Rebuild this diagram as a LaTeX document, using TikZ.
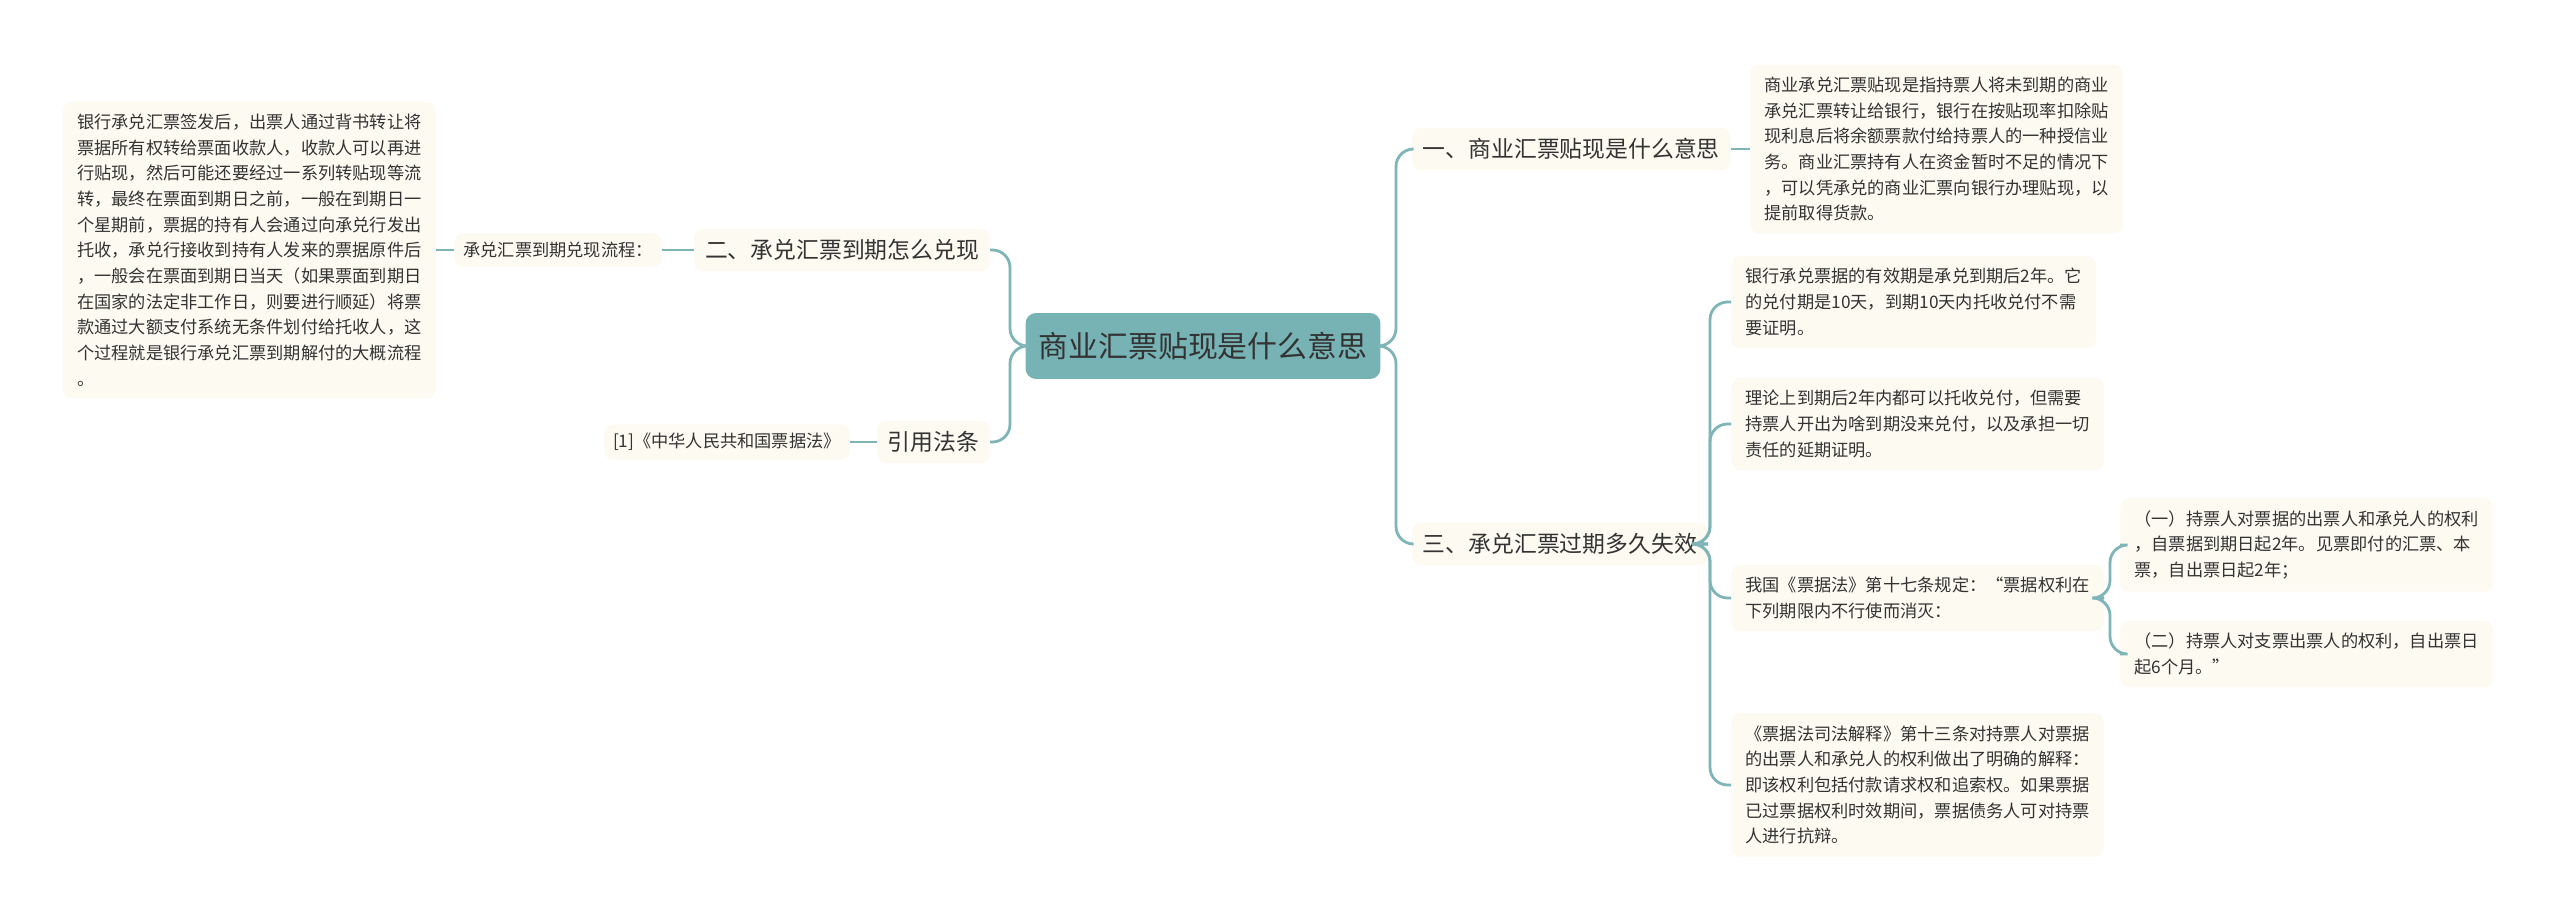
\documentclass[tikz,border=0pt]{standalone}
\usepackage{fontspec}
\setmainfont{Noto Sans CJK SC}
\begin{document}
\begin{tikzpicture}[x=0.02cm,y=-0.02cm,
  lk/.style={draw=lineC,line width=1.6pt,rounded corners=10},
  leaf/.style={fill=boxC,rounded corners=5,align=left,inner xsep=8,inner ysep=7,text=txtC,font=\fontsize{9.8pt}{14.6pt}\selectfont},
  br/.style={fill=boxC,rounded corners=5,inner xsep=6,inner ysep=6,text=txtC,font=\fontsize{13pt}{16pt}\selectfont},
  lab/.style={fill=boxC,rounded corners=5,inner sep=5,text=txtC,font=\fontsize{9.8pt}{14pt}\selectfont}]
\definecolor{lineC}{HTML}{7FB5B6}
\definecolor{boxC}{HTML}{FCFAF1}
\definecolor{txtC}{HTML}{333333}
\definecolor{ctrC}{HTML}{77B2B4}
\useasboundingbox[fill=white] (0,0) rectangle (2560,922);
\node[fill=ctrC,rounded corners=6,minimum width=7.1cm,minimum height=1.32cm,text=txtC,font=\fontsize{17pt}{20pt}\selectfont] (c) at (1203,346) {商业汇票贴现是什么意思};
% right
\node[br,anchor=west] (b1) at (1412,149) {一、商业汇票贴现是什么意思};
\node[br,anchor=west] (b3) at (1412,544) {三、承兑汇票过期多久失效};
\node[leaf,anchor=west] (r1) at (1750,149) {商业承兑汇票贴现是指持票人将未到期的商业\\承兑汇票转让给银行，银行在按贴现率扣除贴\\现利息后将余额票款付给持票人的一种授信业\\务。商业汇票持有人在资金暂时不足的情况下\\，可以凭承兑的商业汇票向银行办理贴现，以\\提前取得货款。};
\node[leaf,anchor=west] (r2) at (1731,302) {银行承兑票据的有效期是承兑到期后2年。它\\的兑付期是10天，到期10天内托收兑付不需\\要证明。};
\node[leaf,anchor=west] (r3) at (1731,424) {理论上到期后2年内都可以托收兑付，但需要\\持票人开出为啥到期没来兑付，以及承担一切\\责任的延期证明。};
\node[leaf,anchor=west] (r4) at (1731,598) {我国《票据法》第十七条规定：“票据权利在\\下列期限内不行使而消灭：};
\node[leaf,anchor=west] (r5) at (1731,785) {《票据法司法解释》第十三条对持票人对票据\\的出票人和承兑人的权利做出了明确的解释：\\即该权利包括付款请求权和追索权。如果票据\\已过票据权利时效期间，票据债务人可对持票\\人进行抗辩。};
\node[leaf,anchor=west] (s1) at (2120,545) {（一）持票人对票据的出票人和承兑人的权利\\，自票据到期日起2年。见票即付的汇票、本\\票，自出票日起2年；};
\node[leaf,anchor=west] (s2) at (2120,654) {（二）持票人对支票出票人的权利，自出票日\\起6个月。”};
% left
\node[br,anchor=east] (b2) at (990,250) {二、承兑汇票到期怎么兑现};
\node[br,anchor=east] (b4) at (990,442) {引用法条};
\node[lab,anchor=east] (l2) at (662,250) {承兑汇票到期兑现流程：};
\node[lab,anchor=east] (l4) at (850,442) {[1]《中华人民共和国票据法》};
\node[leaf,anchor=east] (lb) at (436,250) {银行承兑汇票签发后，出票人通过背书转让将\\票据所有权转给票面收款人，收款人可以再进\\行贴现，然后可能还要经过一系列转贴现等流\\转，最终在票面到期日之前，一般在到期日一\\个星期前，票据的持有人会通过向承兑行发出\\托收，承兑行接收到持有人发来的票据原件后\\，一般会在票面到期日当天（如果票面到期日\\在国家的法定非工作日，则要进行顺延）将票\\款通过大额支付系统无条件划付给托收人，这\\个过程就是银行承兑汇票到期解付的大概流程\\。};
% connectors
\draw[lk] (c.east) -- (1396,346) |- (b1.west);
\draw[lk] (c.east) -- (1396,346) |- (b3.west);
\draw[lk] (b1.east) -- (r1.west);
\draw[lk] (b3.east) -- (1710,544) |- (r2.west);
\draw[lk] (b3.east) -- (1710,544) |- (r3.west);
\draw[lk] (b3.east) -- (1710,544) |- (r4.west);
\draw[lk] (b3.east) -- (1710,544) |- (r5.west);
\draw[lk] (r4.east) -- (2110,598) |- (s1.west);
\draw[lk] (r4.east) -- (2110,598) |- (s2.west);
\draw[lk] (c.west) -- (1010,346) |- (b2.east);
\draw[lk] (c.west) -- (1010,346) |- (b4.east);
\draw[lk] (b2.west) -- (l2.east);
\draw[lk] (b4.west) -- (l4.east);
\draw[lk] (l2.west) -- (lb.east);
\end{tikzpicture}
\end{document}
